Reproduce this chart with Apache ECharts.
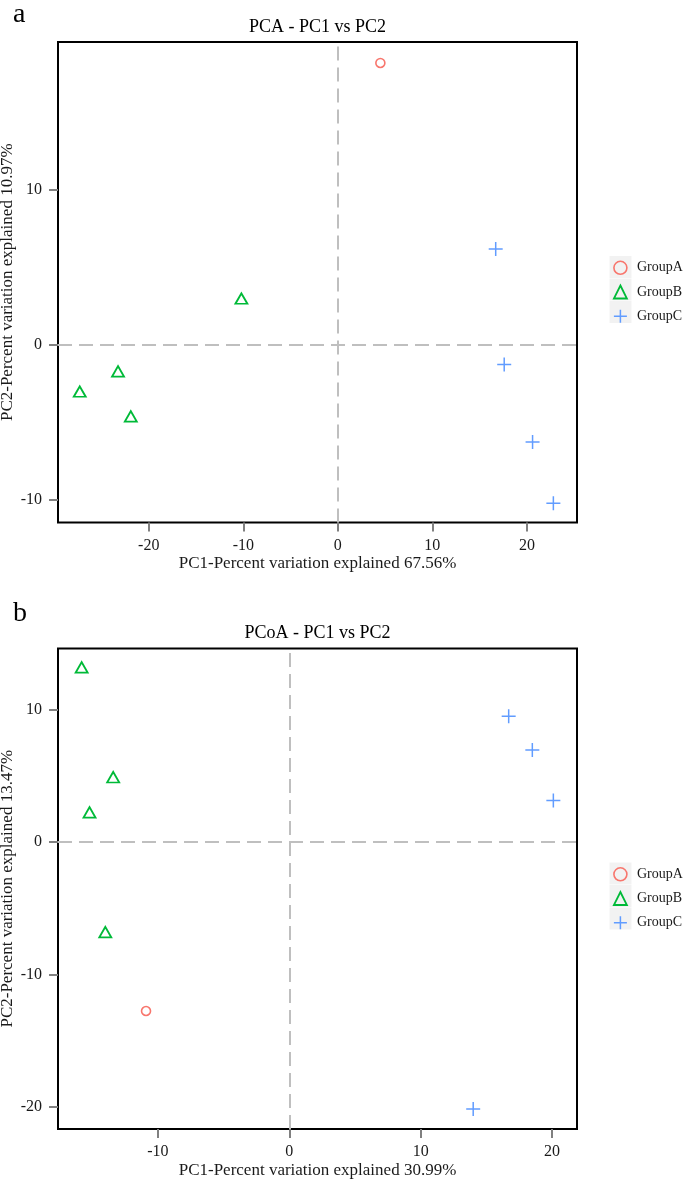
<!DOCTYPE html>
<html>
<head>
<meta charset="utf-8">
<script src="https://cdn.jsdelivr.net/npm/echarts@6/dist/echarts.min.js"></script>
<style>
  html, body { margin: 0; padding: 0; background: #fff; }
  #chart { width: 685px; height: 1179px; }
</style>
</head>
<body>
<div id="chart"></div>
<script>
// ---------- data ----------
const groupNames = ['GroupA', 'GroupB', 'GroupC'];

// Panel a: PCA
const pcaGroupA = [[4.5, 18.2]];
const pcaGroupB = [[-10.2, 3.0], [-23.25, -1.7], [-27.3, -3.0], [-21.9, -4.6]];
const pcaGroupC = [[16.7, 6.2], [17.6, -1.25], [20.6, -6.25], [22.8, -10.2]];
const pcaXTicks = [-20, -10, 0, 10, 20];
const pcaYTicks = [-10, 0, 10];
const pcaXRange = [-29.6, 25.3];
const pcaYRange = [-11.45, 19.55];

// Panel b: PCoA
const pcoaGroupA = [[-10.9, -12.75]];
const pcoaGroupB = [[-15.8, 13.2], [-13.4, 4.9], [-15.2, 2.25], [-14.0, -6.8]];
const pcoaGroupC = [[16.7, 9.5], [18.5, 6.95], [20.1, 3.15], [14.0, -20.15]];
const pcoaXTicks = [-10, 0, 10, 20];
const pcoaYTicks = [-20, -10, 0, 10];
const pcoaXRange = [-17.6, 21.9];
const pcoaYRange = [-21.66, 14.62];

const titles = ['PCA - PC1 vs PC2', 'PCoA - PC1 vs PC2'];
const panelLetters = ['a', 'b'];
const xNames = ['PC1-Percent variation explained 67.56%', 'PC1-Percent variation explained 30.99%'];
const yNames = ['PC2-Percent variation explained 10.97%', 'PC2-Percent variation explained 13.47%'];

// ---------- styles ----------
const FONT = "'Liberation Serif', 'Times New Roman', serif";
const colors = { GroupA: '#F8766D', GroupB: '#00BA38', GroupC: '#619CFF' };
const crossPath = 'path://M0,7.5L15,7.5M7.5,0L7.5,15';
const symbols = {
  GroupA: { symbol: 'circle', size: 9, bw: 1.6 },
  GroupB: { symbol: 'triangle', size: [12, 10.5], bw: 1.8 },
  GroupC: { symbol: crossPath, size: 14, bw: 1.5 }
};

const panels = [
  { data: [pcaGroupA, pcaGroupB, pcaGroupC], xt: pcaXTicks, yt: pcaYTicks, xr: pcaXRange, yr: pcaYRange, top: 42, letterDy: -41 },
  { data: [pcoaGroupA, pcoaGroupB, pcoaGroupC], xt: pcoaXTicks, yt: pcoaYTicks, xr: pcoaXRange, yr: pcoaYRange, top: 648.5, letterDy: -49 }
];
const GRID_LEFT = 58, GRID_W = 519, GRID_H = 480.5;

const grid = [], xAxis = [], yAxis = [], series = [], legend = [], graphic = [];

panels.forEach((p, i) => {
  grid.push({
    left: GRID_LEFT, top: p.top, width: GRID_W, height: GRID_H,
    show: true, borderColor: '#000', borderWidth: 2, backgroundColor: '#fff',
    containLabel: false, outerBoundsMode: 'none'
  });
  const labelStyle = { color: '#1a1a1a', fontSize: 16, fontFamily: FONT };
  xAxis.push({
    type: 'value', gridIndex: i, min: p.xr[0], max: p.xr[1],
    name: xNames[i], nameLocation: 'middle', nameGap: 33,
    nameTextStyle: { color: '#1a1a1a', fontSize: 17, fontFamily: FONT },
    axisLine: { show: false, onZero: false },
    axisTick: { show: true, length: 9, lineStyle: { color: '#808080', width: 2 }, customValues: p.xt },
    axisLabel: Object.assign({ margin: 15, customValues: p.xt }, labelStyle),
    splitLine: { show: false }
  });
  yAxis.push({
    type: 'value', gridIndex: i, min: p.yr[0], max: p.yr[1],
    axisLine: { show: false, onZero: false },
    axisTick: { show: true, length: 9, lineStyle: { color: '#808080', width: 2 }, customValues: p.yt },
    axisLabel: Object.assign({ margin: 16, customValues: p.yt }, labelStyle),
    splitLine: { show: false }
  });
  groupNames.forEach((g, k) => {
    const s = {
      type: 'scatter', name: g, xAxisIndex: i, yAxisIndex: i,
      data: p.data[k],
      symbol: symbols[g].symbol, symbolSize: symbols[g].size,
      itemStyle: { color: 'rgba(0,0,0,0)', borderColor: colors[g], borderWidth: symbols[g].bw, opacity: 1 },
      emphasis: { disabled: true },
      z: 5
    };
    if (k === 0) {
      s.markLine = {
        silent: true, symbol: ['none', 'none'], label: { show: false },
        lineStyle: { type: [14, 7], color: '#bfbfbf', width: 2 },
        emphasis: { disabled: true },
        data: [{ xAxis: 0 }, { yAxis: 0 }],
        z: 1
      };
    }
    series.push(s);
  });

  const legendTop = p.top + 218.5;
  legend.push({
    orient: 'vertical', left: 613, top: legendTop, padding: 0,
    itemWidth: 13, itemHeight: 13, itemGap: 9.5,
    selectedMode: false,
    textStyle: { color: '#1a1a1a', fontSize: 14, fontFamily: FONT, lineHeight: 14, padding: [0, 0, 0, 5] },
    data: groupNames.map(g => ({
      name: g,
      icon: symbols[g].symbol,
      itemStyle: { color: 'rgba(0,0,0,0)', borderColor: colors[g], borderWidth: symbols[g].bw }
    }))
  });
  groupNames.forEach((g, k) => {
    graphic.push({
      type: 'rect', z: 0, silent: true,
      shape: { x: 609.5, y: legendTop + 6.5 + k * 22.5 - 11, width: 22, height: 22 },
      style: { fill: '#f2f2f2' }
    });
  });

  // y-axis title (rotated)
  graphic.push({
    type: 'text', silent: true, z: 10,
    x: 8, y: p.top + GRID_H / 2, rotation: Math.PI / 2,
    style: { text: yNames[i], x: 0, y: 0, align: 'center', verticalAlign: 'middle',
             font: '17px ' + FONT, fill: '#1a1a1a' }
  });
  graphic.push({
    type: 'text', silent: true, z: 10,
    style: { text: titles[i], x: GRID_LEFT + GRID_W / 2, y: p.top - 15, align: 'center', verticalAlign: 'middle',
             font: '18px ' + FONT, fill: '#000' }
  });
  graphic.push({
    type: 'text', silent: true, z: 10,
    style: { text: panelLetters[i], x: 13, y: p.top + p.letterDy, align: 'left', verticalAlign: 'top',
             font: '28px ' + FONT, fill: '#000' }
  });
});

const chart = echarts.init(document.getElementById('chart'), null, { renderer: 'canvas' });
chart.setOption({
  backgroundColor: '#fff',
  animation: false,
  grid, xAxis, yAxis, series, legend, graphic
});
</script>
</body>
</html>
